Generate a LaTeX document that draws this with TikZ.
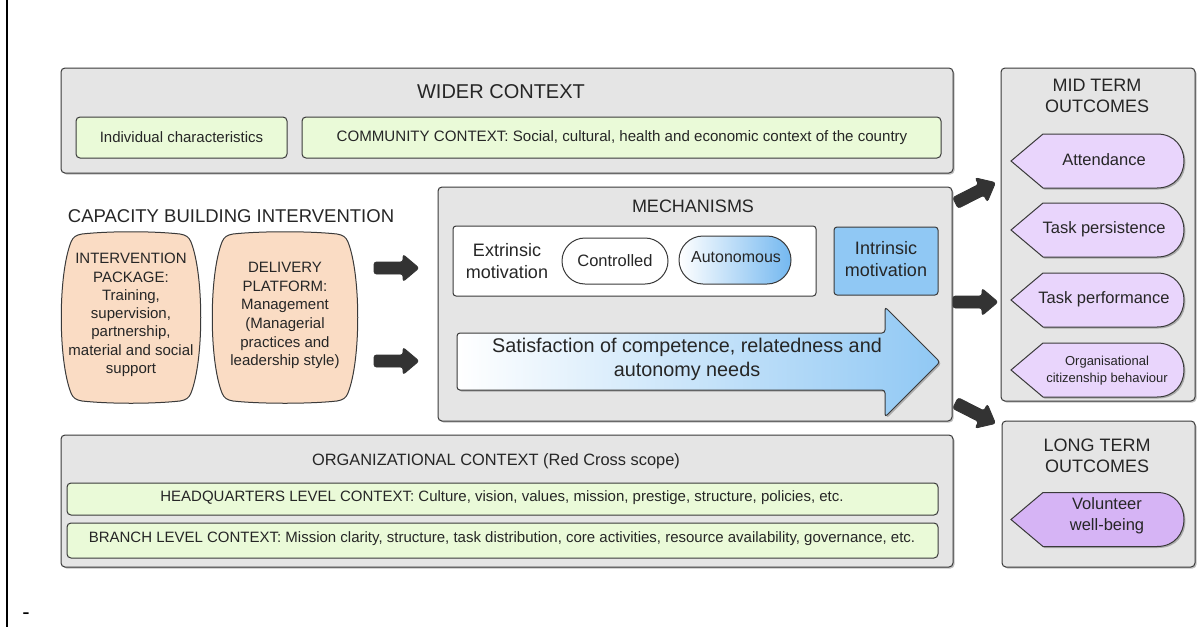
\documentclass[tikz,border=0pt]{standalone}
\usepackage{fontspec}
\setmainfont{Liberation Sans}
\usetikzlibrary{shadows}
\definecolor{boxgray}{HTML}{E5E5E5}
\definecolor{edgegray}{HTML}{3A3A3A}
\definecolor{lgreen}{HTML}{EAFAD8}
\definecolor{peach}{HTML}{FADCC4}
\definecolor{lpurple}{HTML}{E9D5FC}
\definecolor{dpurple}{HTML}{D6B4F5}
\definecolor{skyblue}{HTML}{90C8F4}
\definecolor{midblue}{HTML}{74B8F0}
\definecolor{arrdark}{HTML}{333333}
\tikzset{
  shd/.style={drop shadow={shadow xshift=1.5pt,shadow yshift=-1.5pt,opacity=0.25,fill=black}},
  graybox/.style={draw=edgegray,line width=1pt,fill=boxgray,rounded corners=4pt,shd},
  greenbox/.style={draw=edgegray,line width=1pt,fill=lgreen,rounded corners=4pt},
  titletext/.style={font=\fontsize{18}{21}\selectfont,text=black!85,inner sep=0pt},
  greentext/.style={font=\fontsize{15}{17}\selectfont,text=black!85,inner sep=0pt},
  peachtext/.style={font=\fontsize{15}{18.3}\selectfont,align=center,text=black!85,inner sep=0pt},
  peachshape/.style={draw=edgegray,line width=1pt,fill=peach},
  outtext/.style={font=\fontsize{16.5}{19}\selectfont,align=center,text=black!85,inner sep=0pt},
  outshape/.style={draw=edgegray,line width=1pt},
  blockarr/.style={fill=arrdark,draw=arrdark,line width=0.8pt,rounded corners=2.5pt},
  mechtext/.style={font=\fontsize{18}{21}\selectfont,align=center,text=black!85,inner sep=0pt},
}
\newcommand\outcomeshape[3]{% cx, cy, fill
  \draw[outshape,fill=#3,shd] (#1-86,#2) -- (#1-54,#2-27) -- (#1+60,#2-27)
    .. controls (#1+96,#2-27) and (#1+96,#2+27) .. (#1+60,#2+27)
    -- (#1-54,#2+27) -- cycle;}
\newcommand\barrel[3]{% cx, cy, extra half width
  \draw[peachshape] (#1-49-#3,#2-83.5)
    .. controls (#1-21-#3,#2-86.5) and (#1+21+#3,#2-86.5) .. (#1+49+#3,#2-83.5)
    .. controls (#1+55+#3,#2-82.5) and (#1+58+#3,#2-80.5) .. (#1+60+#3,#2-75.5)
    .. controls (#1+73+#3,#2-42.5) and (#1+73+#3,#2+42.5) .. (#1+60+#3,#2+75.5)
    .. controls (#1+58+#3,#2+80.5) and (#1+55+#3,#2+82.5) .. (#1+49+#3,#2+83.5)
    .. controls (#1+21+#3,#2+86.5) and (#1-21-#3,#2+86.5) .. (#1-49-#3,#2+83.5)
    .. controls (#1-55-#3,#2+82.5) and (#1-58-#3,#2+80.5) .. (#1-60-#3,#2+75.5)
    .. controls (#1-73-#3,#2+42.5) and (#1-73-#3,#2-42.5) .. (#1-60-#3,#2-75.5)
    .. controls (#1-58-#3,#2-80.5) and (#1-55-#3,#2-82.5) .. (#1-49-#3,#2-83.5) -- cycle;}
\newcommand\darkarrow[3]{% x, y, angle
  \begin{scope}[shift={(#1,#2)},rotate=#3]
    \draw[blockarr] (-22,-6) -- (7,-6) -- (7,-13.5) -- (23,0) -- (7,13.5) -- (7,6) -- (-22,6) -- cycle;
  \end{scope}}
\begin{document}
\begin{tikzpicture}[x=1pt,y=-1pt]
\useasboundingbox (0,0) rectangle (1203,627);
\fill[white] (0,0) rectangle (1203,627);
% left rule and dash
\draw[line width=2pt,black] (7,0) -- (7,627);
\node[inner sep=0pt,font=\fontsize{22}{24}\selectfont] (dash) at (26,616) {-};

% WIDER CONTEXT
\draw[graybox] (61,68) rectangle (953,173);
\node[titletext,font=\fontsize{20}{22}\selectfont] (wider) at (501,92) {WIDER CONTEXT};
\draw[greenbox] (76,117) rectangle (287,158);
\node[greentext] (indiv) at (181.5,137.5) {Individual characteristics};
\draw[greenbox] (302,117) rectangle (941,158);
\node[greentext,font=\fontsize{15.1}{17}\selectfont] (comm) at (622,137.5) {COMMUNITY CONTEXT: Social, cultural, health and economic context of the country};

% MID TERM OUTCOMES
\draw[graybox] (1001,68) rectangle (1195,401);
\node[titletext,align=center] (midt) at (1097,96) {MID TERM\\OUTCOMES};
\outcomeshape{1097}{161}{lpurple}
\node[outtext] (att) at (1104,160) {Attendance};
\outcomeshape{1097}{230}{lpurple}
\node[outtext] (tpers) at (1104,229) {Task persistence};
\outcomeshape{1097}{300}{lpurple}
\node[outtext] (tperf) at (1104,299) {Task performance};
\outcomeshape{1097}{370}{lpurple}
\node[outtext,font=\fontsize{13}{16.5}\selectfont] (ocb) at (1107,370.5) {Organisational\\citizenship behaviour};

% LONG TERM OUTCOMES
\draw[graybox] (1002,421) rectangle (1195,567);
\node[titletext,align=center] (longt) at (1097,456) {LONG TERM\\OUTCOMES};
\outcomeshape{1097}{519.5}{dpurple}
\node[outtext,font=\fontsize{16.5}{21}\selectfont] (vwb) at (1107,516) {Volunteer\\well-being};

% CAPACITY BUILDING
\node[titletext,font=\fontsize{18.5}{21}\selectfont] (cap) at (231,216) {CAPACITY BUILDING INTERVENTION};
\barrel{131}{317.5}{0}
\node[peachtext] (ipkg) at (131,315) {INTERVENTION\\PACKAGE:\\Training,\\supervision,\\partnership,\\material and social\\support};
\barrel{285}{317.5}{3}
\node[peachtext,font=\fontsize{15}{18.6}\selectfont] (dplat) at (285,315.5) {DELIVERY\\PLATFORM:\\Management\\(Managerial\\practices and\\leadership style)};

\darkarrow{396}{268}{0}
\darkarrow{396}{361}{0}

% MECHANISMS
\draw[graybox] (438,187) rectangle (952,421);
\node[titletext] (mech) at (693,206) {MECHANISMS};
\draw[draw=edgegray,line width=1pt,fill=white,rounded corners=3pt] (453,226) rectangle (816,296);
\node[mechtext,font=\fontsize{18}{21.5}\selectfont] (extr) at (507,261) {Extrinsic\\motivation};
\draw[draw=edgegray,line width=1pt,fill=white,rounded corners=23pt] (562,238) rectangle (668,284);
\node[outtext] (ctrl) at (615,261) {Controlled};
\draw[draw=edgegray,line width=1pt,left color=white,right color=midblue,rounded corners=24pt] (679,236) rectangle (791,284);
\node[outtext,font=\fontsize{16}{19}\selectfont] (auto) at (736,257) {Autonomous};
\draw[draw=edgegray,line width=1pt,fill=skyblue,rounded corners=3pt] (834,227) rectangle (938,295);
\node[mechtext,font=\fontsize{18}{22}\selectfont] (intr) at (886,259) {Intrinsic\\motivation};

% big arrow
\draw[draw=edgegray,line width=1pt,left color=white,right color=skyblue,rounded corners=3pt,shd]
  (457,333) -- (885,333) -- (885,307) -- (940,362) -- (885,417) -- (885,390) -- (457,390) -- cycle;
\node[mechtext,font=\fontsize{19.8}{24}\selectfont] (sat) at (687,359) {Satisfaction of competence, relatedness and\\autonomy needs};

\darkarrow{975}{193}{27}
\darkarrow{975}{302}{0}
\darkarrow{975}{413}{-27}

% ORGANIZATIONAL CONTEXT
\draw[graybox] (61,435) rectangle (953,567);
\node[titletext,font=\fontsize{16.4}{19}\selectfont] (org) at (496,461) {ORGANIZATIONAL CONTEXT (Red Cross scope)};
\draw[greenbox] (67,483) rectangle (938,515);
\node[greentext] (hq) at (502,498) {HEADQUARTERS LEVEL CONTEXT: Culture, vision, values, mission, prestige, structure, policies, etc.};
\draw[greenbox] (67,523) rectangle (938,558);
\node[greentext] (branch) at (502,539) {BRANCH LEVEL CONTEXT: Mission clarity, structure, task distribution, core activities, resource availability, governance, etc.};
\end{tikzpicture}
\end{document}
